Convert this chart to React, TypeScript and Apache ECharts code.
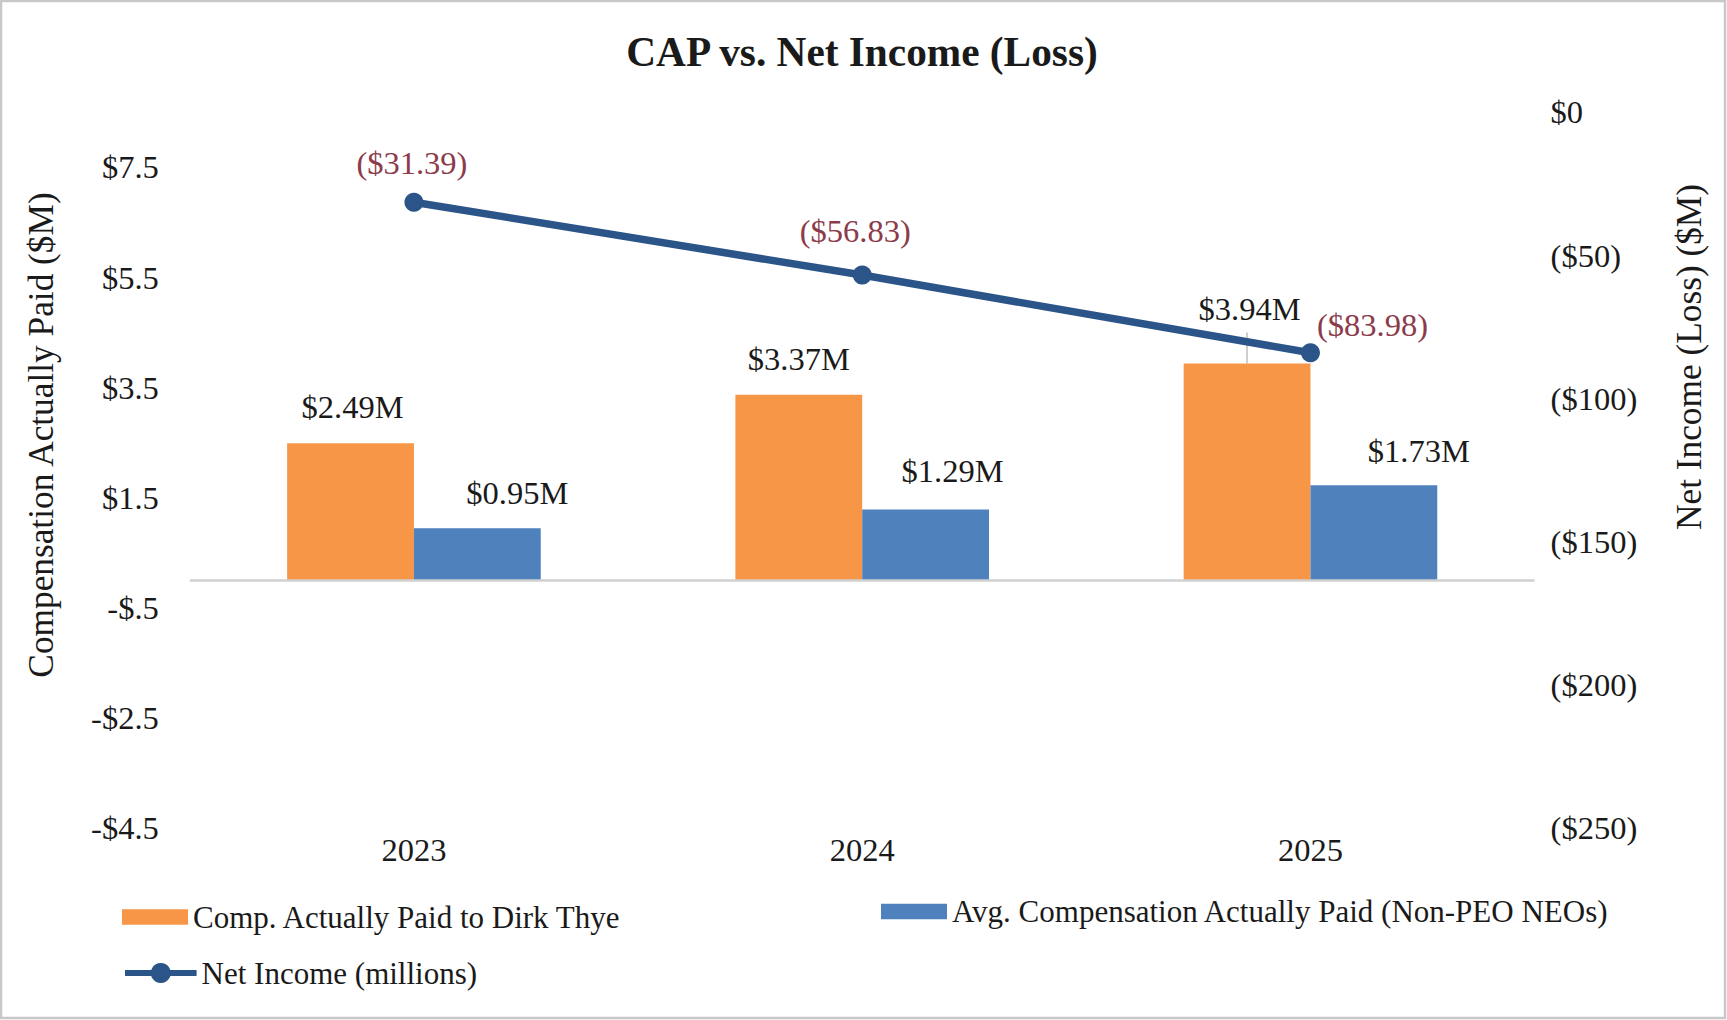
import React, { useEffect, useRef } from 'react';
import * as echarts from 'echarts';

// ---- data ----
const years = ['2023', '2024', '2025'];
const compPaidPEO = [2.49, 3.37, 3.94];
const compPaidNonPEO = [0.95, 1.29, 1.73];
const netIncome = [-31.39, -56.83, -83.98];
const leftTicks = [-4.5, -2.5, -0.5, 1.5, 3.5, 5.5, 7.5];
const rightTicks = [-250, -200, -150, -100, -50, 0];
const peoLeaderTop = 4.5;

const seriesNames = [
  'Comp. Actually Paid to Dirk Thye',
  'Avg. Compensation Actually Paid (Non-PEO NEOs)',
  'Net Income (millions)',
];

// ---- label nudges (px) ----
const peoLabelNudge = [[2, -19.75], [0, -19.5], [2.5, -38]];
const nonPeoLabelNudge = [[40, -18.5], [27, -22], [45, -18]];
const netLabelNudge = [[-2, -13], [-7, -18], [62, -2]];

const FONT = '"Liberation Serif", "Times New Roman", serif';
const TEXT = '#1a1a1a';
const ORANGE = '#F79646';
const BLUE = '#4F81BD';
const NAVY = '#2B5488';
const RED = '#8C3B4B';

function fmtLeft(v: number): string {
  if (!leftTicks.includes(v)) return '';
  if (v < 0) return '-$' + String(-v).replace(/^0\./, '.');
  return '$' + v;
}
function fmtRight(v: number): string {
  if (!rightTicks.includes(v)) return '';
  return v === 0 ? '$0' : '($' + -v + ')';
}

export default function App() {
  const ref = useRef<HTMLDivElement>(null);
  useEffect(() => {
    document.body.style.margin = '0';
    if (!ref.current) return;
    const chart = echarts.init(ref.current, undefined, { renderer: 'svg' });
    const barLabel = {
      show: true,
      position: 'top',
      distance: 0,
      fontSize: 32.5,
      fontFamily: FONT,
      color: TEXT,
      formatter: (p: any) => '$' + Number(p.value).toFixed(2) + 'M',
    };
    const option: any = {
      animation: false,
      backgroundColor: '#ffffff',
      textStyle: { fontFamily: FONT },
      grid: {
        left: 189.8,
        right: 192.4,
        top: 112.3,
        bottom: 191.7,
        containLabel: false,
        outerBoundsMode: 'none',
      },
      legend: [
        {
          data: [seriesNames[0]],
          left: 122,
          top: 901.5,
          padding: 0,
          icon: 'rect',
          itemWidth: 66,
          itemHeight: 15.4,
          selectedMode: false,
          textStyle: { fontSize: 31, fontFamily: FONT, color: TEXT },
        },
        {
          data: [seriesNames[1]],
          left: 881,
          top: 896,
          padding: 0,
          icon: 'rect',
          itemWidth: 66,
          itemHeight: 15.4,
          selectedMode: false,
          textStyle: { fontSize: 31, fontFamily: FONT, color: TEXT },
        },
        {
          data: [seriesNames[2]],
          left: 122,
          top: 957.5,
          padding: 0,
          itemWidth: 71.6,
          itemHeight: 25,
          selectedMode: false,
          lineStyle: { width: 6, color: NAVY },
          textStyle: { fontSize: 31, fontFamily: FONT, color: TEXT },
        },
      ],
      xAxis: {
        type: 'category',
        data: years,
        boundaryGap: true,
        axisLine: { show: false, onZero: false },
        axisTick: { show: false },
        splitLine: { show: false },
        axisLabel: { margin: 5.5, fontSize: 32.5, fontFamily: FONT, color: TEXT },
      },
      yAxis: [
        {
          type: 'value',
          position: 'left',
          min: -4.5,
          max: 8.5,
          interval: 2,
          axisLine: { show: false },
          axisTick: { show: false },
          splitLine: { show: false },
          axisLabel: {
            margin: 31,
            fontSize: 32.5,
            fontFamily: FONT,
            color: TEXT,
            padding: [7, 0, 0, 0],
            formatter: fmtLeft,
          },
        },
        {
          type: 'value',
          position: 'right',
          min: -250,
          max: 0,
          interval: 50,
          axisLine: { show: false },
          axisTick: { show: false },
          splitLine: { show: false },
          axisLabel: {
            margin: 16,
            fontSize: 32.5,
            fontFamily: FONT,
            color: TEXT,
            formatter: fmtRight,
          },
        },
      ],
      series: [
        {
          name: seriesNames[0],
          type: 'bar',
          yAxisIndex: 0,
          barWidth: 126.8,
          barGap: '0%',
          itemStyle: { color: ORANGE },
          label: barLabel,
          emphasis: { disabled: true },
          data: compPaidPEO.map((v, i) => ({ value: v, label: { offset: peoLabelNudge[i] } })),
          z: 2,
          markLine: {
            silent: true,
            symbol: ['none', 'none'],
            label: { show: false },
            emphasis: { disabled: true },
            lineStyle: { color: '#BFBFBF', width: 1.5, type: 'solid' },
            data: [
              [
                { coord: [years[2], compPaidPEO[2]] },
                { coord: [years[2], peoLeaderTop] },
              ],
            ],
          },
        },
        {
          name: seriesNames[1],
          type: 'bar',
          yAxisIndex: 0,
          barWidth: 126.8,
          barGap: '0%',
          itemStyle: { color: BLUE },
          label: barLabel,
          emphasis: { disabled: true },
          data: compPaidNonPEO.map((v, i) => ({ value: v, label: { offset: nonPeoLabelNudge[i] } })),
          z: 2,
          markLine: {
            silent: true,
            symbol: ['none', 'none'],
            label: { show: false },
            emphasis: { disabled: true },
            lineStyle: { color: '#D0D0D0', width: 2.6, type: 'solid' },
            data: [{ yAxis: 0 }],
          },
        },
        {
          name: seriesNames[2],
          type: 'line',
          yAxisIndex: 1,
          symbol: 'circle',
          symbolSize: 19,
          showSymbol: true,
          lineStyle: { width: 7.5, color: NAVY },
          itemStyle: { color: NAVY },
          emphasis: { disabled: true },
          z: 5,
          label: {
            show: true,
            position: 'top',
            distance: 0,
            fontSize: 32.5,
            fontFamily: FONT,
            color: RED,
            formatter: (p: any) => '($' + (-Number(p.value)).toFixed(2) + ')',
          },
          data: netIncome.map((v, i) => ({ value: v, label: { offset: netLabelNudge[i] } })),
        },
      ],
      graphic: [
        {
          type: 'rect',
          silent: true,
          shape: { x: 1, y: 1, width: 1724, height: 1017 },
          style: { fill: 'none', stroke: '#C8C8C8', lineWidth: 2.5 },
          z: 100,
        },
        {
          type: 'text',
          x: 862,
          y: 52,
          style: {
            text: 'CAP vs. Net Income (Loss)',
            fontSize: 41.3,
            fontWeight: 'bold',
            fontFamily: FONT,
            fill: TEXT,
            align: 'center',
            verticalAlign: 'middle',
            textAlign: 'center',
            textVerticalAlign: 'middle',
          },
        },
        {
          type: 'text',
          x: 41.2,
          y: 435,
          rotation: Math.PI / 2,
          style: {
            text: 'Compensation Actually Paid ($M)',
            fontSize: 35.3,
            fontFamily: FONT,
            fill: TEXT,
            align: 'center',
            verticalAlign: 'middle',
            textAlign: 'center',
            textVerticalAlign: 'middle',
          },
        },
        {
          type: 'text',
          x: 1689.7,
          y: 357,
          rotation: Math.PI / 2,
          style: {
            text: 'Net Income (Loss) ($M)',
            fontSize: 35.3,
            fontFamily: FONT,
            fill: TEXT,
            align: 'center',
            verticalAlign: 'middle',
            textAlign: 'center',
            textVerticalAlign: 'middle',
          },
        },
      ],
    };
    chart.setOption(option);
    return () => {
      chart.dispose();
    };
  }, []);
  return <div ref={ref} style={{ width: 1727, height: 1020 }} />;
}
